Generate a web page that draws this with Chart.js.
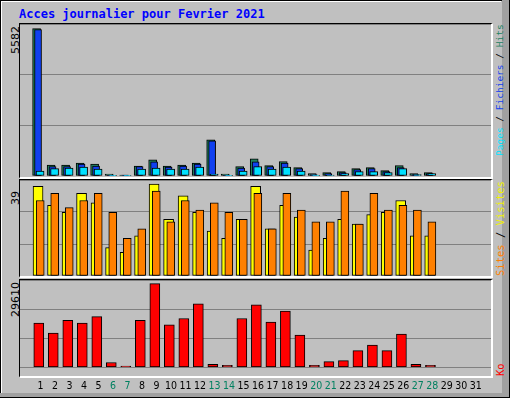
<!DOCTYPE html>
<html><head><meta charset="utf-8">
<script src="https://cdn.jsdelivr.net/npm/chart.js@4"></script>
<style>
html,body{margin:0;padding:0;background:#fff;}
#frame{position:absolute;left:0;top:0;width:510px;height:398px;background:#c0c0c0;border-left:1px solid #000;border-top:1px solid #000;border-right:1px solid #000;border-bottom:1px solid #000;box-sizing:border-box;}
#frame:before{content:"";position:absolute;left:0;top:0;right:8px;bottom:4px;border-left:1px solid #fff;border-top:1px solid #fff;}
#rstrip{position:absolute;left:502px;top:0;width:7px;height:397px;background:#a0a0a0;}
#bstrip{position:absolute;left:0;top:393px;width:509px;height:4px;background:#a0a0a0;}
.t{position:absolute;font-family:"DejaVu Sans Mono",monospace;}
.rot{position:absolute;transform:rotate(-90deg);transform-origin:left top;white-space:nowrap;font-family:"DejaVu Sans Mono",monospace;font-size:9.5px;}
canvas{position:absolute;}
.panel{position:absolute;border-left:1px solid #000;border-top:1px solid #000;border-right:2px solid #fff;border-bottom:2px solid #fff;}
</style></head><body>
<div id="frame"></div><div id="rstrip"></div><div id="bstrip"></div>
<div class="t" style="left:19px;top:7px;font-size:12px;font-weight:bold;color:#0000ff;">Acces journalier pour Fevrier 2021</div>
<div class="panel" style="left:19px;top:23px;width:471px;height:153px;"></div>
<div class="panel" style="left:19px;top:179px;width:471px;height:96px;"></div>
<div class="panel" style="left:19px;top:279px;width:471px;height:96px;"></div>
<div class="rot" style="left:9px;top:54px;font-family:'DejaVu Sans';font-size:11px;">5582</div>
<div class="rot" style="left:9px;top:205px;font-family:'DejaVu Sans';font-size:11px;">39</div>
<div class="rot" style="left:9px;top:317px;font-family:'DejaVu Sans';font-size:11px;">29610</div>
<div class="rot" style="left:494px;top:156px;"><span style="color:#00e0ff">Pages</span> / <span style="color:#1040f0">Fichiers</span> / <span style="color:#208060">Hits</span></div>
<div class="rot" style="left:494px;top:276px;font-size:10.5px;"><span style="color:#ff8000">Sites</span> / <span style="color:#f0f000">Visites</span></div>
<div class="rot" style="left:494px;top:376px;font-size:10.5px;"><span style="color:#ff0000">Ko</span></div>
<canvas id="c1" style="left:20px;top:24px;width:471px;height:152px;"></canvas>
<canvas id="c2" style="left:20px;top:180px;width:471px;height:96px;"></canvas>
<canvas id="c3" style="left:20px;top:280px;width:471px;height:118px;"></canvas>
<script>
const days = Array.from({length:31},(_,i)=>String(i+1));
const weekend = [6,7,13,14,20,21,27,28];
const hits  = [5582,418,418,494,456,76,38,380,608,380,418,494,1367,76,354,646,392,544,316,89,127,165,278,316,203,392,89,127];
const files = [5544,354,354,456,380,38,38,354,532,342,380,456,1329,38,304,532,354,494,278,51,89,127,240,278,165,316,51,89];
const pages = [190,278,304,342,266,13,25,266,304,266,266,342,76,25,190,354,266,342,190,25,38,89,165,165,127,278,51,89];
const visits = [38,30,27,35,31,12,10,17,39,24,34,27,19,16,24,38,20,30,25,11,16,24,22,26,27,32,17,17];
const sites  = [32,35,29,32,35,27,16,20,36,23,32,28,31,27,24,35,20,35,28,23,23,36,22,35,28,30,28,23];
const ko = [15670,12100,16640,15670,17940,1730,430,16640,29610,15020,17290,22480,1080,760,17290,22150,15990,19880,11460,760,2050,2380,5940,7890,5940,11780,1080,760];

function ds(arr,off,color,w,order){
  return {data:arr.map((v,i)=>({x:i+1+off,y:v})),backgroundColor:color,borderColor:'#000',borderWidth:1,
    barThickness:w,grouped:false,order:order,borderSkipped:false};
}
function opts(ymax,showX){
  return {responsive:false,animation:false,devicePixelRatio:1,
    layout:{padding:0},
    plugins:{legend:{display:false},tooltip:{enabled:false}},
    scales:{
      x:{type:'linear',min:0.11,max:31.53,display:showX,
        grid:{display:false},border:{display:false},
        afterBuildTicks:s=>{s.ticks=days.map(d=>({value:+d}));},
        ticks:{font:{family:'DejaVu Sans Condensed',size:10.5},padding:5,autoSkip:false,maxRotation:0,
          color:c=>weekend.includes(c.tick.value)?'#008060':'#000',
          callback:v=>String(v)}},
      y:{min:0,max:ymax,display:true,afterFit:s=>{s.width=0;},
        ticks:{display:false,stepSize:ymax/3},
        grid:{color:'#808080',lineWidth:1,drawTicks:false},border:{display:false}}
    }};
}
function mk(id,w,h,datasets,ymax,showX){
  const c=document.getElementById(id); c.width=w; c.height=h;
  return new Chart(c,{type:'bar',data:{datasets},options:opts(ymax,showX)});
}
mk('c1',471,152,[ds(hits,-0.27,'#208060',8,3),ds(files,-0.17,'#1040f0',7,2),ds(pages,-0.03,'#00e0ff',8,1)],5757,false);
mk('c2',471,96,[ds(visits,-0.17,'#ffff00',10,2),ds(sites,-0.02,'#ff8000',8,1)],40.7,false);
mk('c3',471,118,[ds(ko,-0.12,'#ff0000',10,1)],30907,true);
</script>
</body></html>
